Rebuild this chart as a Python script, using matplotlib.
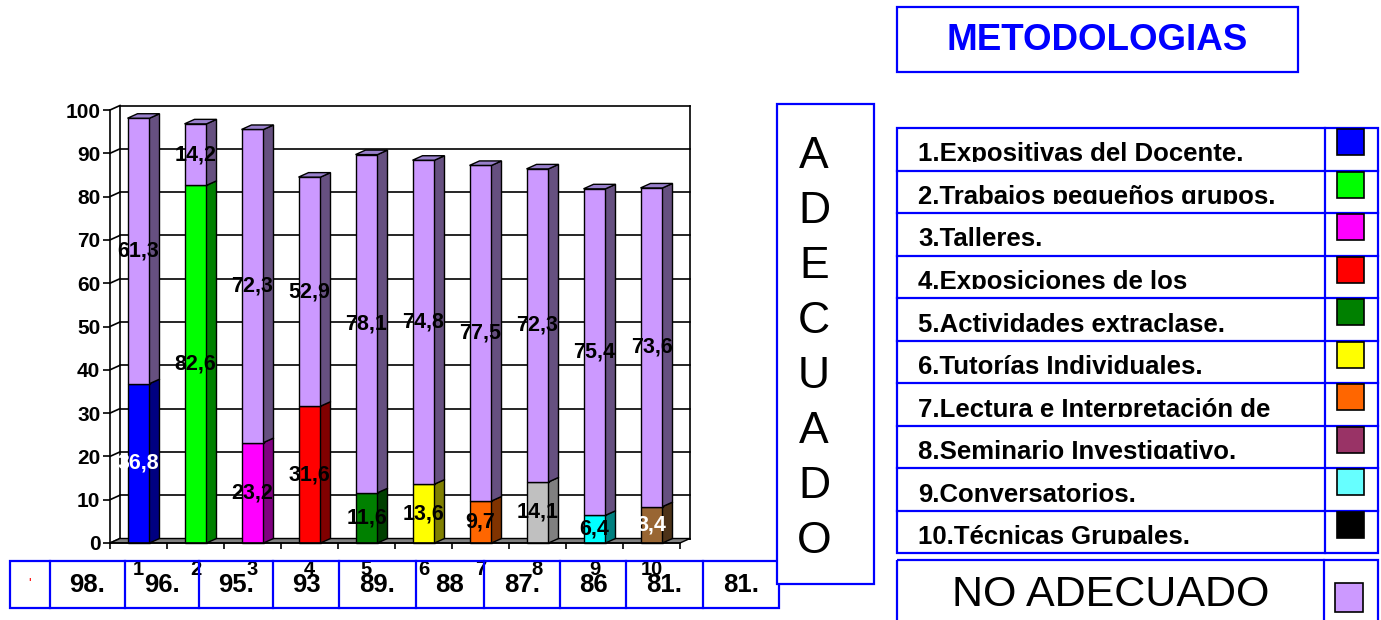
import matplotlib
matplotlib.use("Agg")
import matplotlib.pyplot as plt
from matplotlib.patches import Polygon, Rectangle
from matplotlib.transforms import Affine2D

W, H = 1381, 620

# data
categories = ["1", "2", "3", "4", "5", "6", "7", "8", "9", "10"]
adecuado = [36.8, 82.6, 23.2, 31.6, 11.6, 13.6, 9.7, 14.1, 6.4, 8.4]
no_adecuado = [61.3, 14.2, 72.3, 52.9, 78.1, 74.8, 77.5, 72.3, 75.4, 73.6]
total_labels = ["98.", "96.", "95.", "93", "89.", "88", "87.", "86", "81.", "81."]
methods = [
    "1.Expositivas del Docente.",
    "2.Trabajos pequeños grupos.",
    "3.Talleres.",
    "4.Exposiciones de los",
    "5.Actividades extraclase.",
    "6.Tutorías Individuales.",
    "7.Lectura e Interpretación de",
    "8.Seminario Investigativo.",
    "9.Conversatorios.",
    "10.Técnicas Grupales.",
]

face_colors = ["#0000FF", "#00FF00", "#FF00FF", "#FF0000", "#008000",
               "#FFFF00", "#FF6600", "#C0C0C0", "#00FFFF", "#996633"]
side_colors = ["#000080", "#008000", "#800080", "#800000", "#004000",
               "#808000", "#803300", "#808080", "#008080", "#4D3319"]
legend_colors = ["#0000FF", "#00FF00", "#FF00FF", "#FF0000", "#008000",
                 "#FFFF00", "#FF6600", "#993366", "#66FFFF", "#000000"]
label_colors = ["white", "black", "black", "black", "black",
                "black", "black", "black", "black", "white"]
LAV, LAV_SIDE, LAV_TOP = "#CC99FF", "#665080", "#9980CC"
BLUE = "#0000FF"
FONT = ["Liberation Sans", "DejaVu Sans"]

plt.rcParams["font.family"] = FONT

fig = plt.figure(figsize=(W / 100, H / 100), dpi=100)
# pixel transform (origin top-left, like the reference image)
T = Affine2D().scale(1 / W, -1 / H).translate(0, 1) + fig.transFigure

# ---- main 3D-looking stacked bar chart
x0, x1, y0, y1 = 110, 680, 543, 110
ax = fig.add_axes([x0 / W, 1 - y0 / H, (x1 - x0) / W, (y0 - y1) / H])
ax.set_xlim(0, len(categories))
ax.set_ylim(0, 100)
ax.patch.set_visible(False)
n = len(categories)
DX = 10 / ((x1 - x0) / n)
DY = 4.5 / ((y0 - y1) / 100)
BW = 22 / ((x1 - x0) / n)

lw = 1.2
for v in range(0, 101, 10):
    ax.plot([DX, n + DX], [v + DY, v + DY], color="black", lw=lw, zorder=0.5, clip_on=False)
    ax.plot([0, DX], [v, v + DY], color="black", lw=lw, zorder=0.5, clip_on=False)
for xx in (DX, n + DX):
    ax.plot([xx, xx], [DY, 100 + DY], color="black", lw=lw, zorder=0.5, clip_on=False)

ax.add_patch(Polygon([(0, 0), (n, 0), (n + DX, DY), (DX, DY)], closed=True,
                     facecolor="#808080", edgecolor="black", lw=1, zorder=1, clip_on=False))


def draw_box(xl, b, t, face, side, top=None, z=2):
    xr = xl + BW
    ax.add_patch(Rectangle((xl, b), BW, t - b, facecolor=face, edgecolor="black",
                           lw=1, zorder=z, clip_on=False))
    ax.add_patch(Polygon([(xr, b), (xr + DX, b + DY), (xr + DX, t + DY), (xr, t)],
                         closed=True, facecolor=side, edgecolor="black", lw=1,
                         zorder=z, clip_on=False))
    if top is not None:
        ax.add_patch(Polygon([(xl, t), (xl + DX, t + DY), (xr + DX, t + DY), (xr, t)],
                             closed=True, facecolor=top, edgecolor="black", lw=1,
                             zorder=z, clip_on=False))


for i in range(n):
    c = i + 0.5
    xl = c - BW / 2
    a, na = adecuado[i], no_adecuado[i]
    draw_box(xl, 0, a, face_colors[i], side_colors[i], z=2 + i * 0.01)
    draw_box(xl, a, a + na, LAV, LAV_SIDE, LAV_TOP, z=2 + i * 0.01)
    ax.text(c, a / 2, f"{a:.1f}".replace(".", ","), ha="center", va="center",
            fontsize=15.5, fontweight="bold", color=label_colors[i], zorder=10)
    ax.text(c, a + na / 2, f"{na:.1f}".replace(".", ","), ha="center", va="center",
            fontsize=15.5, fontweight="bold", color="black", zorder=10)
    ax.text(c, -6.2, categories[i], ha="center", va="center", fontsize=14.5,
            fontweight="bold", zorder=10, clip_on=False)

for s in ("top", "right"):
    ax.spines[s].set_visible(False)
for s in ("left", "bottom"):
    ax.spines[s].set_linewidth(1.2)
ax.set_yticks(range(0, 101, 10))
ax.set_yticklabels([str(v) for v in range(0, 101, 10)], fontsize=15, fontweight="bold")
ax.set_xticks(range(0, n + 1))
ax.set_xticklabels([])
ax.tick_params(axis="y", length=5, width=1.2, pad=2)
ax.tick_params(axis="x", length=4.5, width=1.2)

# ---- table of totals under the chart
fig.add_artist(Rectangle((10, 561), 769, 47, transform=T, fill=False,
                         edgecolor=BLUE, lw=1.6))
cells = [10, 50, 125, 199, 273, 339, 416, 484, 560, 626, 703, 779]
for xb in cells[1:-1]:
    fig.add_artist(plt.Line2D([xb, xb], [561, 608], transform=T, color=BLUE, lw=1.6))
for i, lab in enumerate(total_labels):
    fig.text((cells[i + 1] + cells[i + 2]) / 2, 585, lab, transform=T, ha="center",
             va="center", fontsize=18.5, fontweight="bold")
fig.text(30, 584, "'", transform=T, ha="center", va="center", fontsize=10, color="red")

# ---- vertical ADECUADO box
fig.add_artist(Rectangle((777, 104), 97, 480, transform=T, facecolor="white",
                         edgecolor=BLUE, lw=1.6, zorder=3))
for k, ch in enumerate("ADECUADO"):
    fig.text(814, 156 + 55.1 * k, ch, transform=T, ha="center", va="center",
             fontsize=32, zorder=4)

# ---- METODOLOGIAS title box
fig.add_artist(Rectangle((897, 7), 401, 65, transform=T, fill=False, edgecolor=BLUE, lw=1.6))
fig.text(1097, 40, "METODOLOGIAS", transform=T, ha="center", va="center",
         fontsize=26.5, fontweight="bold", color=BLUE)

# ---- legend table
lx0, lx1, ldiv = 897, 1378, 1325
ly0, rh = 128, 42.5
fig.add_artist(Rectangle((lx0, ly0), lx1 - lx0, rh * len(methods), transform=T,
                         fill=False, edgecolor=BLUE, lw=1.6))
fig.add_artist(plt.Line2D([ldiv, ldiv], [ly0, ly0 + rh * len(methods)], transform=T,
                          color=BLUE, lw=1.6))
for i, (name, col) in enumerate(zip(methods, legend_colors)):
    top = ly0 + rh * i
    bot = top + rh
    if i > 0:
        fig.add_artist(plt.Line2D([lx0, lx1], [top, top], transform=T, color=BLUE, lw=1.6))
    t = fig.text(918, bot - 9, name, transform=T, ha="left", va="baseline",
                 fontsize=18.5, fontweight="bold")
    t.set_clip_path(Rectangle((lx0, top), ldiv - lx0, rh - 9, transform=T))
    fig.add_artist(Rectangle((1337, top + 1), 27, 26, transform=T, facecolor=col,
                             edgecolor="black", lw=1.2, zorder=4))

# ---- NO ADECUADO box
fig.add_artist(Rectangle((lx0, 560), lx1 - lx0, 80, transform=T, fill=False,
                         edgecolor=BLUE, lw=1.6))
fig.add_artist(plt.Line2D([1324, 1324], [560, 640], transform=T, color=BLUE, lw=1.6))
fig.text(1111, 595, "NO ADECUADO", transform=T, ha="center", va="center", fontsize=31)
fig.add_artist(Rectangle((1335, 583), 28, 29, transform=T, facecolor=LAV,
                         edgecolor="black", lw=1.2))

fig.savefig("out.png", dpi=100)
